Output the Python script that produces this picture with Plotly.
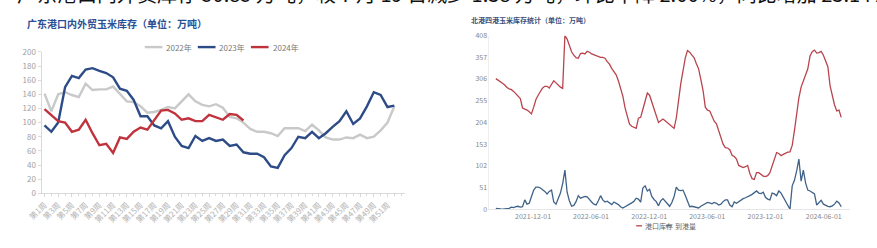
import plotly.graph_objects as go
import pandas as pd

W, H = 877, 248

# ---------------- Left chart data: 广东港口内外贸玉米库存 ----------------
weeks = list(range(1, 53))
week_ticks = list(range(1, 52, 2))
week_ticktext = [f"第{w}周" for w in week_ticks]

y2022 = [141, 116, 140, 143, 139, 136, 155, 146, 147, 147, 151, 141, 130, 129, 123, 114,
         115, 118, 122, 120, 130, 140, 130, 125, 123, 126, 121, 108, 106, 100, 91, 87,
         87, 85, 81, 92, 92, 92, 88, 97, 89, 79, 76, 76, 79, 78, 83, 78, 80, 89, 100, 123]
y2023 = [96, 87, 100, 150, 166, 163, 175, 177, 173, 170, 164, 148, 145, 132, 109, 109,
         96, 92, 102, 80, 67, 64, 81, 74, 78, 74, 76, 67, 69, 58, 56, 56,
         51, 38, 36, 54, 64, 80, 78, 87, 78, 85, 94, 102, 116, 98, 106, 123, 143, 139, 122, 124]
y2024 = [119, 110, 102, 100, 87, 90, 104, 85, 68, 70, 57, 79, 77, 87, 93, 90,
         103, 117, 118, 113, 104, 106, 102, 102, 111, 108, 104, 112, 111, 103]

# ---------------- Right chart data: 北港四港玉米库存统计 ----------------
start_date = "2021-08-06"
stock = [307, 304, 301, 296, 292, 286, 283, 281, 277, 272, 266, 260, 238, 236, 233, 229,
         224, 240, 258, 268, 277, 285, 289, 289, 285, 294, 302, 297, 291, 287, 284, 408,
         400, 385, 370, 362, 356, 355, 366, 367, 365, 371, 369, 365, 363, 361, 359, 357,
         357, 355, 347, 341, 331, 324, 316, 302, 285, 266, 238, 218, 200, 195, 193, 190,
         214, 216, 235, 255, 273, 268, 253, 236, 220, 204, 208, 212, 208, 203, 198, 194,
         190, 215, 260, 295, 325, 355, 373, 369, 362, 356, 342, 330, 305, 279, 240, 233,
         231, 218, 207, 201, 185, 168, 153, 145, 144, 140, 127, 124, 118, 103, 100, 98,
         100, 103, 84, 72, 70, 86, 86, 82, 78, 77, 79, 86, 103, 118, 133, 131,
         126, 129, 132, 134, 135, 150, 185, 225, 262, 287, 300, 315, 330, 360, 370, 374,
         367, 368, 371, 362, 350, 335, 290, 265, 245, 231, 233, 216]
arrivals = [2, 2, 1, 0, 1, 1, 2, 5, 4, 6, 7, 5, 6, 22, 12, 14,
            28, 45, 52, 52, 50, 47, 42, 36, 42, 45, 17, 12, 25, 38, 60, 92,
            40, 20, 7, 9, 18, 32, 26, 28, 30, 29, 22, 17, 12, 10, 20, 32,
            22, 17, 19, 14, 11, 17, 14, 11, 6, 3, 6, 10, 12, 15, 19, 26,
            24, 17, 50, 55, 43, 47, 30, 23, 18, 8, 20, 25, 19, 15, 7, 16,
            30, 52, 45, 44, 45, 33, 18, 6, 7, 6, 4, 3, 7, 10, 14, 16,
            15, 13, 16, 14, 10, 12, 18, 22, 22, 10, 6, 17, 14, 18, 22, 25,
            27, 29, 32, 35, 38, 43, 38, 37, 40, 28, 24, 22, 38, 36, 32, 43,
            38, 28, 20, 10, 0, 55, 68, 90, 118, 66, 92, 62, 45, 43, 40, 36,
            10, 15, 21, 12, 9, 7, 6, 8, 12, 19, 15, 6]
dates = pd.date_range(start_date, periods=len(stock), freq="7D")
date_ticks = ["2021-12-01", "2022-06-01", "2022-12-01", "2023-06-01", "2023-12-01", "2024-06-01"]
y_ticks_right = [0, 51, 102, 153, 204, 255, 306, 357, 408]

C2022, C2023, C2024 = "#c9c9c9", "#2d4c87", "#c0333d"
CSTOCK, CARR = "#b9444e", "#3f6288"
FONT = "Noto Sans CJK SC"

def px(x):
    return x / W

def py(y):
    return 1 - y / H

fig = go.Figure()
fig.add_trace(go.Scatter(x=weeks, y=y2022, mode="lines", line=dict(color=C2022, width=2.4),
                         name="2022年", xaxis="x", yaxis="y", showlegend=False))
fig.add_trace(go.Scatter(x=weeks, y=y2023, mode="lines", line=dict(color=C2023, width=2.4),
                         name="2023年", xaxis="x", yaxis="y", showlegend=False))
fig.add_trace(go.Scatter(x=weeks[:len(y2024)], y=y2024, mode="lines", line=dict(color=C2024, width=2.4),
                         name="2024年", xaxis="x", yaxis="y", showlegend=False))
fig.add_trace(go.Scatter(x=dates, y=stock, mode="lines", line=dict(color=CSTOCK, width=1.3),
                         name="港口库存", xaxis="x2", yaxis="y2", showlegend=False))
fig.add_trace(go.Scatter(x=dates, y=arrivals, mode="lines", line=dict(color=CARR, width=1.3),
                         name="到港量", xaxis="x2", yaxis="y2", showlegend=False))

fig.update_layout(
    width=W, height=H, margin=dict(l=0, r=0, t=0, b=0),
    paper_bgcolor="white", plot_bgcolor="white",
    font=dict(family=FONT, color="#999999"),
    xaxis=dict(domain=[px(27), px(397)], range=[0.57, 53.58], tickvals=week_ticks,
               ticktext=week_ticktext, tickangle=-45, tickfont=dict(size=8, color="#b3b3b3"),
               showline=True, linecolor="#d9d9d9", showgrid=False, zeroline=False,
               ticks="outside", ticklen=3, tickcolor="#d9d9d9",
               minor=dict(dtick=1, ticks="outside", ticklen=2, tickcolor="#d9d9d9")),
    yaxis=dict(domain=[py(196), py(48)], range=[0, 200], dtick=20,
               tickfont=dict(size=8, color="#a0a0a0"), showline=True, linecolor="#d9d9d9",
               showgrid=False, zeroline=False, ticks="outside", ticklen=3, tickcolor="#d9d9d9"),
    xaxis2=dict(domain=[px(482.7), px(850)], range=["2021-07-17", "2024-08-24"], type="date",
                tickvals=date_ticks, ticktext=date_ticks, tickfont=dict(size=7, color="#888888"),
                showline=True, linecolor="#e6e6e6", showgrid=False, zeroline=False, ticks=""),
    yaxis2=dict(domain=[py(212.7), py(31)], range=[0, 408], tickvals=y_ticks_right,
                tickfont=dict(size=7, color="#888888"), showline=True, linecolor="#eeeeee",
                showgrid=False, zeroline=False, ticks="", anchor="x2"),
)
fig.layout.xaxis2.anchor = "y2"

# titles
fig.add_annotation(x=px(10), y=py(18), xref="paper", yref="paper", xanchor="left", yanchor="middle",
                   text="<b>广东港口内外贸玉米库存（单位：万吨）</b>", showarrow=False,
                   font=dict(size=10, color="#2a4f95", family=FONT))
fig.add_annotation(x=px(462), y=py(15), xref="paper", yref="paper", xanchor="left", yanchor="middle",
                   text="<b>北港四港玉米库存统计（单位：万吨）</b>", showarrow=False,
                   font=dict(size=7, color="#3a4f7a", family=FONT))
# sentence of the surrounding article, cut off by the top edge as in the reference
fig.add_annotation(x=0, y=py(4), xref="paper", yref="paper", xanchor="left", yanchor="bottom",
                   text="广东港口内外贸库存 50.85 万吨，较 7 月 19 日减少 1.38 万吨，环比下降 2.66%，同比增加 23.14%",
                   showarrow=False, font=dict(size=20, color="#111111", family=FONT))

# left legend
for x0, col, lab in [(132, C2022, "2022年"), (186, C2023, "2023年"), (240, C2024, "2024年")]:
    fig.add_shape(type="line", xref="paper", yref="paper", x0=px(x0), x1=px(x0 + 18),
                  y0=py(43), y1=py(43), line=dict(color=col, width=2.4))
    fig.add_annotation(x=px(x0 + 20), y=py(43), xref="paper", yref="paper", xanchor="left",
                       yanchor="middle", text=lab, showarrow=False,
                       font=dict(size=8, color="#777777", family=FONT))
# right legend
for x0, col, lab in [(632, CSTOCK, "港口库存"), (662, CARR, "到港量")]:
    fig.add_shape(type="line", xref="paper", yref="paper", x0=px(x0), x1=px(x0 + 6),
                  y0=py(230), y1=py(230), line=dict(color=col, width=1.3))
    fig.add_annotation(x=px(x0 + 7), y=py(230), xref="paper", yref="paper", xanchor="left",
                       yanchor="middle", text=lab, showarrow=False,
                       font=dict(size=7, color="#666666", family=FONT))

fig.write_html("out.html")
